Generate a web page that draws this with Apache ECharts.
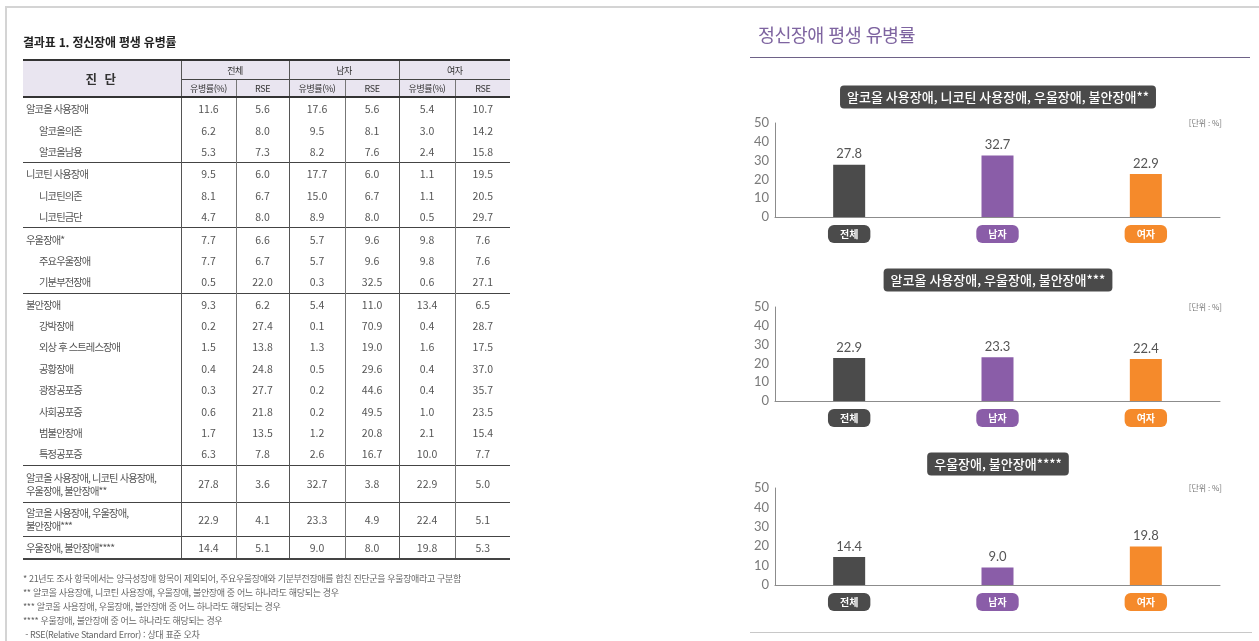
<!DOCTYPE html>
<html lang="ko">
<head>
<meta charset="utf-8">
<script src="https://cdn.jsdelivr.net/npm/echarts@6/dist/echarts.min.js"></script>
<style>
  html, body { margin: 0; padding: 0; background: #fff; }
  body { width: 1259px; height: 641px; position: relative; overflow: hidden;
         font-family: 'Noto Sans CJK KR', 'Noto Sans', sans-serif; color: #555; }
  #chart { position: absolute; left: 0; top: 0; width: 1259px; height: 641px; }
  .frame-top { position: absolute; left: 5px; top: 6px; width: 1254px; height: 0; border-top: 2px solid #d4d4d4; }
  .frame-left { position: absolute; left: 5px; top: 6px; width: 0; height: 640px; border-left: 2px solid #d4d4d4; }
  .tbl-title { position: absolute; left: 23px; top: 33px; font-size: 12px; font-weight: 700;
               color: #222; letter-spacing: -0.2px; }
  table.result { position: absolute; left: 23px; top: 59px; width: 487px; border-collapse: collapse;
                 table-layout: fixed; font-size: 10.5px; color: #555; }
  table.result td, table.result th { padding: 0; text-align: center; font-weight: 400; }
  table.result thead tr:first-child th { border-top: 2px solid #333; height: 18px; }
  table.result thead tr:last-child th { border-bottom: 2px solid #333; height: 16px;
                                        border-top: 1px solid #444; }
  table.result thead th { background: #e9e5f0; font-size: 9px; color: #333; letter-spacing: -0.4px; }
  table.result thead th.diag { font-size: 12.5px; font-weight: 700; color: #333; letter-spacing: 2px;
                               border-bottom: 2px solid #333; }
  table.result th.grp, table.result td.grp { border-left: 1px solid #555; }
  table.result th.sub, table.result td.sub { border-left: 1px solid #777; }
  table.result tbody td { height: 21.4px; }
  table.result tbody td.label { text-align: left; padding-left: 3px; font-size: 10.3px;
                                letter-spacing: -0.9px; white-space: nowrap; line-height: 13px; }
  table.result tbody td.label.indent { padding-left: 16px; }
  table.result tbody tr.sep td { border-top: 1px solid #444; }
  table.result tbody tr.tall td { height: 36px; }
  table.result tbody tr.last td { border-bottom: 2px solid #444; }
  .notes { position: absolute; left: 23px; top: 572px; font-size: 9px; color: #666;
           line-height: 14px; letter-spacing: -0.35px; white-space: nowrap; }
  .panel-title { position: absolute; left: 758px; top: 21px; font-size: 18.5px; color: #7e64a0;
                 letter-spacing: -0.6px; }
  .panel-rule { position: absolute; left: 750px; top: 57px; width: 500px; border-top: 1.5px solid #6e6287; }
  .panel-bottom { position: absolute; left: 750px; top: 632px; width: 502px; border-top: 1.5px solid #c8c8c8; }
</style>
</head>
<body>
<div id="chart"></div>
<div class="frame-top"></div>
<div class="frame-left"></div>
<div class="tbl-title">결과표 1. 정신장애 평생 유병률</div>
<table class="result" id="result">
  <colgroup>
    <col style="width:158px"><col style="width:55px"><col style="width:53px">
    <col style="width:56px"><col style="width:54px"><col style="width:56px"><col style="width:55px">
  </colgroup>
  <thead>
    <tr>
      <th class="diag" rowspan="2">진 단</th>
      <th class="grp" colspan="2">전체</th>
      <th class="grp" colspan="2">남자</th>
      <th class="grp" colspan="2">여자</th>
    </tr>
    <tr>
      <th class="grp">유병률(%)</th><th class="sub">RSE</th>
      <th class="grp">유병률(%)</th><th class="sub">RSE</th>
      <th class="grp">유병률(%)</th><th class="sub">RSE</th>
    </tr>
  </thead>
  <tbody id="tbody"></tbody>
</table>
<div class="notes">
  <div>* 21년도 조사 항목에서는 양극성장애 항목이 제외되어, 주요우울장애와 기분부전장애를 합친 진단군을 우울장애라고 구분함</div>
  <div>** 알코올 사용장애, 니코틴 사용장애, 우울장애, 불안장애 중 어느 하나라도 해당되는 경우</div>
  <div>*** 알코올 사용장애, 우울장애, 불안장애 중 어느 하나라도 해당되는 경우</div>
  <div>**** 우울장애, 불안장애 중 어느 하나라도 해당되는 경우</div>
  <div>&nbsp;- RSE(Relative Standard Error) : 상대 표준 오차</div>
</div>
<div class="panel-title">정신장애 평생 유병률</div>
<div class="panel-rule"></div>
<div class="panel-bottom"></div>

<script>
// table data
const diagLabels = [
  '알코올 사용장애', '알코올의존', '알코올남용',
  '니코틴 사용장애', '니코틴의존', '니코틴금단',
  '우울장애*', '주요우울장애', '기분부전장애',
  '불안장애', '강박장애', '외상 후 스트레스장애', '공황장애', '광장공포증', '사회공포증', '범불안장애', '특정공포증',
  '알코올 사용장애, 니코틴 사용장애,<br>우울장애, 불안장애**',
  '알코올 사용장애, 우울장애,<br>불안장애***',
  '우울장애, 불안장애****'
]
const subItem = [0,1,1, 0,1,1, 0,1,1, 0,1,1,1,1,1,1,1, 0, 0, 0]
const groupStart = [0, 3, 6, 9, 17, 18, 19]
const totalRate  = ['11.6','6.2','5.3','9.5','8.1','4.7','7.7','7.7','0.5','9.3','0.2','1.5','0.4','0.3','0.6','1.7','6.3','27.8','22.9','14.4']
const totalRSE   = ['5.6','8.0','7.3','6.0','6.7','8.0','6.6','6.7','22.0','6.2','27.4','13.8','24.8','27.7','21.8','13.5','7.8','3.6','4.1','5.1']
const maleRate   = ['17.6','9.5','8.2','17.7','15.0','8.9','5.7','5.7','0.3','5.4','0.1','1.3','0.5','0.2','0.2','1.2','2.6','32.7','23.3','9.0']
const maleRSE    = ['5.6','8.1','7.6','6.0','6.7','8.0','9.6','9.6','32.5','11.0','70.9','19.0','29.6','44.6','49.5','20.8','16.7','3.8','4.9','8.0']
const femaleRate = ['5.4','3.0','2.4','1.1','1.1','0.5','9.8','9.8','0.6','13.4','0.4','1.6','0.4','0.4','1.0','2.1','10.0','22.9','22.4','19.8']
const femaleRSE  = ['10.7','14.2','15.8','19.5','20.5','29.7','7.6','7.6','27.1','6.5','28.7','17.5','37.0','35.7','23.5','15.4','7.7','5.0','5.1','5.3']

// chart data
const categories = ['전체', '남자', '여자']
const chartTitles = [
  '알코올 사용장애, 니코틴 사용장애, 우울장애, 불안장애**',
  '알코올 사용장애, 우울장애, 불안장애***',
  '우울장애, 불안장애****'
]
const anyDisorder = [27.8, 32.7, 22.9]
const alcDepAnx = [22.9, 23.3, 22.4]
const depAnx = [14.4, 9.0, 19.8]
const yMin = 0
const yMax = 50
const yStep = 10

// build table
const tbody = document.getElementById('tbody')
diagLabels.forEach((label, i) => {
  const tr = document.createElement('tr')
  const cls = []
  if (groupStart.includes(i) && i > 0) cls.push('sep')
  if (i === 17 || i === 18) cls.push('tall')
  if (i === diagLabels.length - 1) cls.push('last')
  tr.className = cls.join(' ')
  const cells = [totalRate[i], totalRSE[i], maleRate[i], maleRSE[i], femaleRate[i], femaleRSE[i]]
  tr.innerHTML = `<td class="label${subItem[i] ? ' indent' : ''}">${label}</td>` +
    cells.map((v, k) => `<td class="${k % 2 ? 'sub' : 'grp'}">${v}</td>`).join('')
  tbody.appendChild(tr)
})
document.querySelectorAll('tr.tall')[1].querySelectorAll('td').forEach(td => td.style.height = '33px')

// charts
const barColors = ['#4b4b4b', '#8a5da8', '#f58a2b']
const seriesData = [anyDisorder, alcDepAnx, depAnx]
const grids = [
  { left: 775, top: 123, width: 445, height: 94 },
  { left: 775, top: 307, width: 445, height: 94 },
  { left: 775, top: 488, width: 445, height: 97 }
]
const titleY = [97, 280, 464]
const font = '"Noto Sans CJK KR", "Noto Sans", sans-serif'

const rich = {}
barColors.forEach((c, i) => {
  rich['c' + i] = {
    backgroundColor: c, color: '#fff', borderRadius: 6, padding: [4, 12, 4, 12],
    fontSize: 10, fontWeight: 'bold', fontFamily: font, lineHeight: 10
  }
})

const chart = echarts.init(document.getElementById('chart'))
chart.setOption({
  animation: false,
  grid: grids,
  xAxis: grids.map((g, i) => ({
    type: 'category',
    gridIndex: i,
    data: categories,
    axisLine: { lineStyle: { color: '#8c8c8c', width: 1 } },
    axisTick: { show: false },
    axisLabel: {
      margin: 12,
      formatter: (v, idx) => `{c${idx}|${v}}`,
      rich
    }
  })),
  yAxis: grids.map((g, i) => ({
    type: 'value',
    gridIndex: i,
    min: yMin,
    max: yMax,
    interval: yStep,
    axisLine: { show: true, lineStyle: { color: '#8c8c8c', width: 1 } },
    axisTick: { show: false },
    splitLine: { show: false },
    axisLabel: { color: '#7a7a7a', fontSize: 13, margin: 6, fontFamily: 'Lato, "Noto Sans", sans-serif' }
  })),
  series: seriesData.map((d, i) => ({
    type: 'bar',
    xAxisIndex: i,
    yAxisIndex: i,
    data: d,
    barWidth: 32,
    itemStyle: { color: p => barColors[p.dataIndex] },
    label: {
      show: true,
      position: 'top',
      distance: 4,
      color: '#555',
      fontSize: 13,
      fontFamily: 'Lato, "Noto Sans", sans-serif',
      formatter: p => p.value.toFixed(1)
    }
  })),
  graphic: chartTitles.map((t, i) => ({
    type: 'text',
    x: 998,
    y: titleY[i],
    style: {
      text: t,
      fill: '#fff',
      font: `500 13px ${font}`,
      align: 'center',
      verticalAlign: 'middle',
      backgroundColor: '#4a4a4a',
      padding: [5, 7, 5, 7],
      borderRadius: 4
    }
  })).concat(grids.map(g => ({
    type: 'text',
    x: g.left + g.width + 2,
    y: g.top,
    style: {
      text: '[단위 : %]',
      fill: '#777',
      font: `8px ${font}`,
      align: 'right',
      verticalAlign: 'middle'
    }
  })))
})
</script>
</body>
</html>
